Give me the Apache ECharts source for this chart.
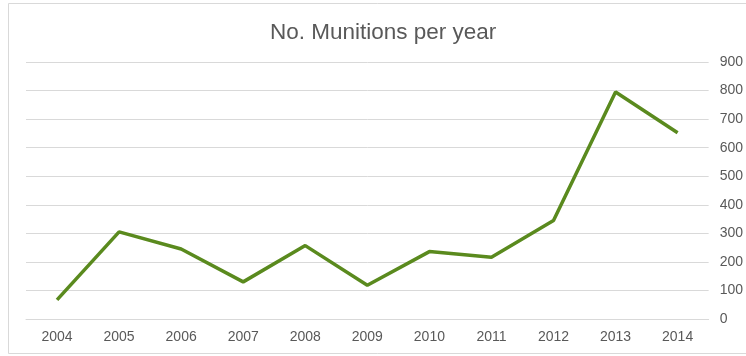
<!DOCTYPE html>
<html><head><meta charset="utf-8">
<script src="https://cdn.jsdelivr.net/npm/echarts@6/dist/echarts.min.js"></script>
<style>html,body{margin:0;padding:0;background:#fff}#c{width:746px;height:356px}</style>
</head><body><div id="c"></div>
<script>
const years = ['2004','2005','2006','2007','2008','2009','2010','2011','2012','2013','2014'];
const munitions = [67, 305, 245, 130, 257, 118, 236, 216, 345, 795, 652];
const titleText = 'No. Munitions per year';

const chart = echarts.init(document.getElementById('c'), null, {renderer:'canvas'});
chart.setOption({
  animation: false,
  backgroundColor: '#fff',
  graphic: [{type:'rect', shape:{x:8.5,y:3.5,width:760,height:350}, style:{fill:'none', stroke:'#d9d9d9', lineWidth:1}, silent:true}],
  title: {text: titleText, left: 265, top: 16,
    textStyle:{fontFamily:'Liberation Sans, Arial', fontSize:22.5, fontWeight:'normal', color:'#595959'}},
  grid: {left: 26, right: 34, top: 62, bottom: 37, containLabel:false},
  xAxis: {type:'category', data: years, boundaryGap:true,
    axisLine:{show:true, lineStyle:{color:'#d9d9d9'}}, axisTick:{show:false},
    axisLabel:{color:'#595959', fontFamily:'Liberation Sans, Arial', fontSize:14, margin:11}},
  yAxis: {type:'value', position:'right', min:0, max:900, interval:100,
    axisLine:{show:false}, axisTick:{show:false},
    splitLine:{lineStyle:{color:'#d9d9d9'}},
    axisLabel:{color:'#595959', fontFamily:'Liberation Sans, Arial', fontSize:14, margin:11}},
  series: [{type:'line', data: munitions, symbol:'none', lineStyle:{color:'#5a8a1e', width:3.5}}]
});
</script></body></html>
